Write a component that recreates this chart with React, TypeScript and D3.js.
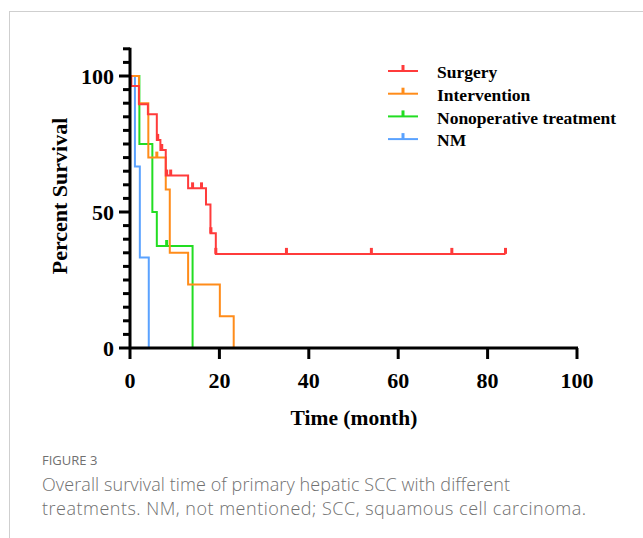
import React, { useEffect, useRef } from 'react';
import * as d3 from 'd3';

// Kaplan-Meier steps (time in months, survival in %)
const surgeryTimes = [0, 0.3, 2, 4, 6, 6.8, 8, 13, 17, 18, 19.2, 84];
const surgerySurv = [100, 96.3, 89.6, 85.9, 76.5, 72.8, 63.4, 58.7, 52.8, 42.2, 34.6, 34.6];
const surgeryCensor = [6.2, 7.1, 8.2, 9.1, 14, 16, 18.1, 19.2, 35, 54, 72, 84];

const interventionTimes = [0, 2, 4.1, 8, 8.9, 13, 20.1, 23.2];
const interventionSurv = [100, 90, 70, 58.3, 35, 23.3, 11.7, 0];
const interventionCensor = [6];

const nonopTimes = [0, 2.1, 5, 6, 14];
const nonopSurv = [100, 75, 50, 37.5, 0];
const nonopCensor = [8.2];

const nmTimes = [0, 1.1, 2.2, 4.2];
const nmSurv = [100, 66.7, 33.3, 0];
const nmCensor: number[] = [];

const seriesNames = ['Surgery', 'Intervention', 'Nonoperative treatment', 'NM'];
const xTicks = [0, 20, 40, 60, 80, 100];
const yTicks = [0, 50, 100];

const App = () => {
  const chartRef = useRef<SVGSVGElement>(null);

  useEffect(() => {
    const svg = d3.select(chartRef.current);
    svg.selectAll('*').remove();

    const serif = '"Liberation Serif", "DejaVu Serif", serif';
    const sans = '"Open Sans", "Noto Sans", sans-serif';

    // figure frame
    svg.append('rect')
      .attr('x', 9.5).attr('y', 11.5)
      .attr('width', 700).attr('height', 600)
      .attr('fill', 'none')
      .attr('stroke', '#cfcfcf')
      .attr('stroke-width', 1);

    const x = d3.scaleLinear().domain([0, 100]).range([130, 577]);
    const y = d3.scaleLinear().domain([0, 100]).range([348, 76]);

    const series = [
      { name: seriesNames[3], t: nmTimes, s: nmSurv, c: nmCensor, color: '#5aa2ff' },
      { name: seriesNames[2], t: nonopTimes, s: nonopSurv, c: nonopCensor, color: '#22dd22' },
      { name: seriesNames[1], t: interventionTimes, s: interventionSurv, c: interventionCensor, color: '#ff8c1a' },
      { name: seriesNames[0], t: surgeryTimes, s: surgerySurv, c: surgeryCensor, color: '#ff3b3b' },
    ];

    const line = d3.line<[number, number]>()
      .x(d => x(d[0]))
      .y(d => y(d[1]))
      .curve(d3.curveStepAfter);

    // survival value at time t for placing censor ticks
    const survAt = (t: number[], s: number[], time: number) => {
      let v = s[0];
      for (let i = 0; i < t.length; i++) if (t[i] <= time) v = s[i];
      return v;
    };

    series.forEach(sr => {
      const pts = sr.t.map((t, i) => [t, sr.s[i]] as [number, number]);
      svg.append('path')
        .attr('d', line(pts))
        .attr('fill', 'none')
        .attr('stroke', sr.color)
        .attr('stroke-width', 2);
      svg.selectAll(null)
        .data(sr.c)
        .enter().append('line')
        .attr('x1', d => x(d)).attr('x2', d => x(d))
        .attr('y1', d => y(survAt(sr.t, sr.s, d)))
        .attr('y2', d => y(survAt(sr.t, sr.s, d)) - 6)
        .attr('stroke', sr.color)
        .attr('stroke-width', 3);
    });

    // y axis
    const yAxis = svg.append('g').attr('transform', `translate(${x(0)},0)`);
    yAxis.append('line')
      .attr('y1', y(110) - 1).attr('y2', y(0) + 1)
      .attr('stroke', '#000').attr('stroke-width', 3);
    yAxis.selectAll('.minor')
      .data(d3.range(0, 111, 5))
      .enter().append('line')
      .attr('x1', d => (d % 50 === 0 ? -11 : -7)).attr('x2', 0)
      .attr('y1', d => y(d)).attr('y2', d => y(d))
      .attr('stroke', '#000').attr('stroke-width', 3);
    yAxis.selectAll('text')
      .data(yTicks)
      .enter().append('text')
      .attr('x', -16).attr('y', d => y(d))
      .attr('dy', '0.35em')
      .attr('text-anchor', 'end')
      .attr('font-family', serif).attr('font-weight', 'bold').attr('font-size', 22)
      .text(d => d);

    // x axis
    const xAxis = svg.append('g').attr('transform', `translate(0,${y(0)})`);
    xAxis.append('line')
      .attr('x1', x(0) - 1).attr('x2', x(100) + 1)
      .attr('stroke', '#000').attr('stroke-width', 3);
    xAxis.selectAll('.tick')
      .data(xTicks)
      .enter().append('line')
      .attr('x1', d => x(d)).attr('x2', d => x(d))
      .attr('y1', 0).attr('y2', 11)
      .attr('stroke', '#000').attr('stroke-width', 3);
    xAxis.selectAll('text')
      .data(xTicks)
      .enter().append('text')
      .attr('x', d => x(d)).attr('y', 40)
      .attr('text-anchor', 'middle')
      .attr('font-family', serif).attr('font-weight', 'bold').attr('font-size', 22)
      .text(d => d);

    // axis titles
    svg.append('text')
      .attr('x', 354).attr('y', 425)
      .attr('text-anchor', 'middle')
      .attr('font-family', serif).attr('font-weight', 'bold').attr('font-size', 21.5)
      .text('Time (month)');
    svg.append('text')
      .attr('transform', 'translate(67,196) rotate(-90)')
      .attr('text-anchor', 'middle')
      .attr('font-family', serif).attr('font-weight', 'bold').attr('font-size', 22)
      .text('Percent Survival');

    // legend
    const legendColors = ['#ff3b3b', '#ff8c1a', '#22dd22', '#5aa2ff'];
    const lg = svg.append('g').attr('transform', 'translate(388,71)');
    seriesNames.forEach((name, i) => {
      const g = lg.append('g').attr('transform', `translate(0,${i * 22.7})`);
      g.append('line').attr('x1', 0).attr('x2', 30).attr('y1', 0).attr('y2', 0)
        .attr('stroke', legendColors[i]).attr('stroke-width', 2);
      g.append('line').attr('x1', 15).attr('x2', 15).attr('y1', 0).attr('y2', -6)
        .attr('stroke', legendColors[i]).attr('stroke-width', 3);
      g.append('text')
        .attr('x', 49).attr('y', 1).attr('dy', '0.35em')
        .attr('font-family', serif).attr('font-weight', 'bold').attr('font-size', 17.5)
        .text(name);
    });

    // caption
    svg.append('text')
      .attr('x', 42).attr('y', 465)
      .attr('font-family', sans).attr('font-size', 13).attr('fill', '#707070')
      .text('FIGURE 3');
    svg.append('text')
      .attr('x', 42).attr('y', 491)
      .attr('font-family', sans).attr('font-weight', 300).attr('font-size', 18).attr('fill', '#707070')
      .attr('textLength', 468).attr('lengthAdjust', 'spacing')
      .text('Overall survival time of primary hepatic SCC with different');
    svg.append('text')
      .attr('x', 42).attr('y', 515)
      .attr('font-family', sans).attr('font-weight', 300).attr('font-size', 18).attr('fill', '#707070')
      .attr('textLength', 544).attr('lengthAdjust', 'spacing')
      .text('treatments. NM, not mentioned; SCC, squamous cell carcinoma.');
  }, []);

  return (
    <div style={{ position: 'absolute', left: 0, top: 0, width: 643, height: 538, background: '#fff' }}>
      <svg ref={chartRef} width={643} height={538}></svg>
    </div>
  );
};

export default App;
